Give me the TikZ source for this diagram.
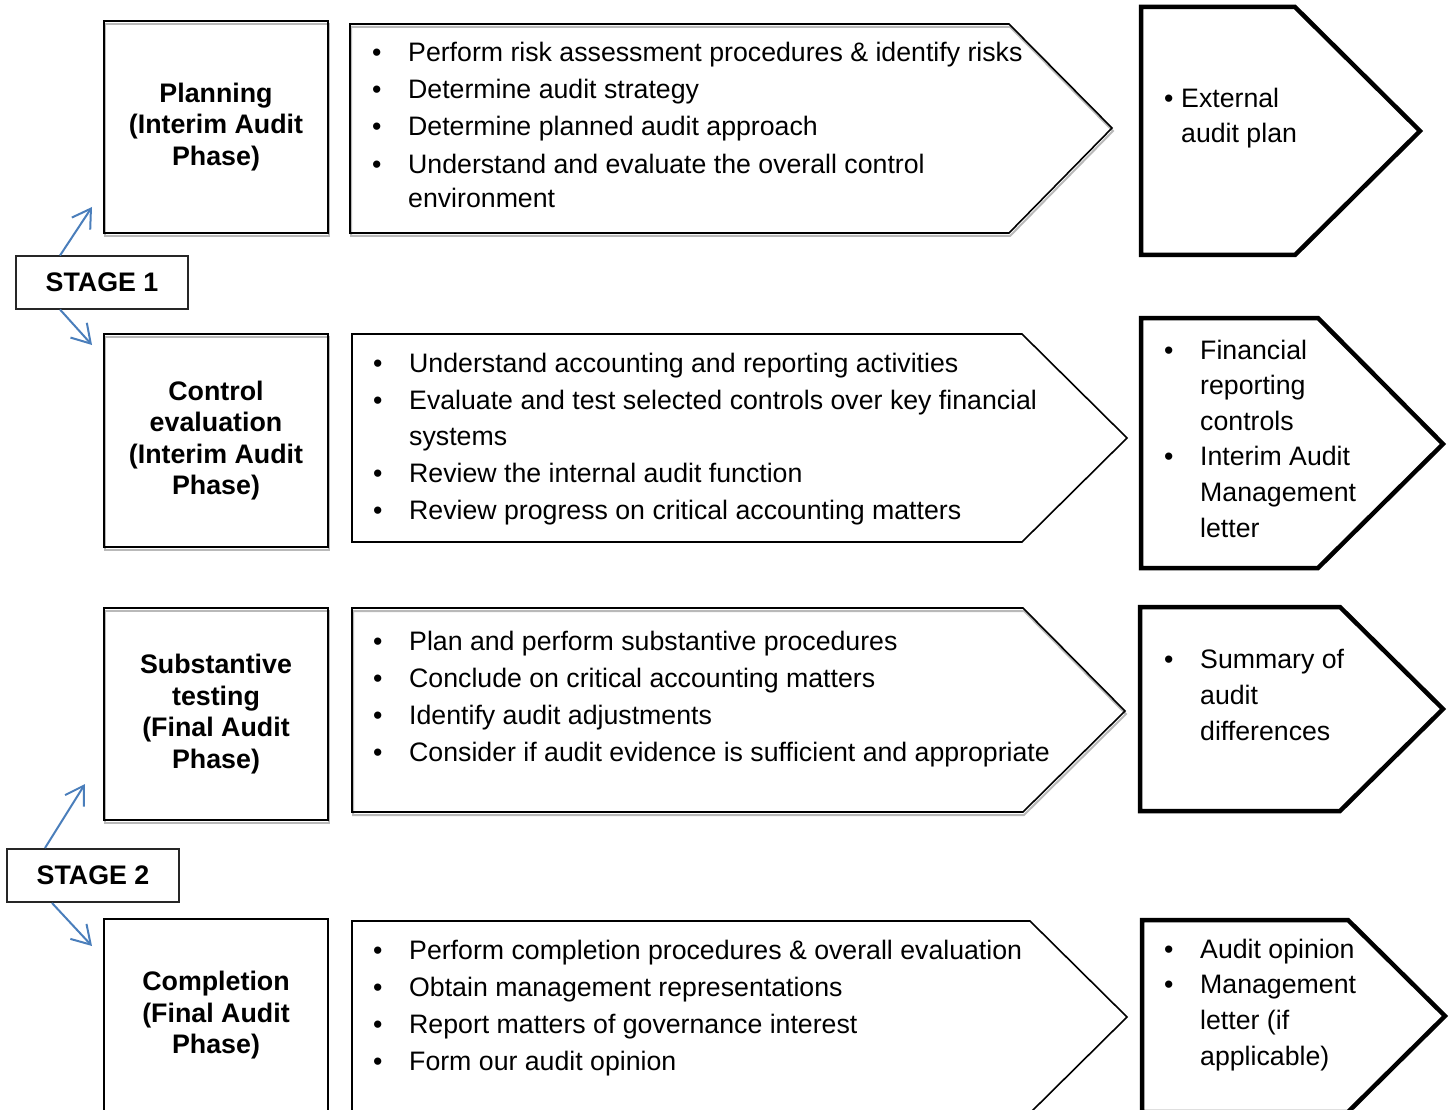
\documentclass[tikz,border=0pt]{standalone}
\usepackage{fontspec}
\setmainfont{Liberation Sans}
\usetikzlibrary{arrows.meta}
\definecolor{stageBlue}{HTML}{4A7EBB}
\newcommand{\bul}[1][36pt]{\makebox[#1][l]{\textbullet}}

\begin{document}
\begin{tikzpicture}[x=1pt, y=-1pt,
    phaseBox/.style={draw, line width=2pt, minimum width=224pt, minimum height=212pt, inner sep=0pt, align=center, font=\bfseries\fontsize{26.8}{31.5}\selectfont},
    stageBox/.style={draw=black!85, line width=2pt, minimum width=172pt, minimum height=52pt, font=\bfseries\fontsize{26.8}{32}\selectfont},
    shadowed/.style={preaction={draw=gray!55, line width=2pt, transform canvas={xshift=1pt, yshift=-3pt}}},
    taskArrow/.style={draw, line width=1.6pt},
    resultArrow/.style={draw, line width=4.5pt},
    taskList/.style={anchor=base west, inner sep=0pt, align=left, font=\fontsize{26.7}{37}\selectfont},
    outList/.style={anchor=base west, inner sep=0pt, align=left, font=\fontsize{26.7}{35.6}\selectfont},
    flow/.style={stageBlue, line width=2pt, -{Straight Barb[length=18pt, width=22pt]}}]
    \useasboundingbox (0,0) rectangle (1454,1110);
    \clip (0,0) rectangle (1454,1110);

    \node[phaseBox, shadowed] (planning) at (216,127) {Planning\\(Interim Audit\\Phase)};
    \node[phaseBox, shadowed, minimum height=213pt] (control) at (216,440.5) {Control\\evaluation\\(Interim Audit\\Phase)};
    \node[phaseBox, shadowed] (substantive) at (216,714) {Substantive\\testing\\(Final Audit\\Phase)};
    \node[phaseBox, minimum height=193pt] (completion) at (216,1015.5) {Completion\\(Final Audit\\Phase)};

    \node[stageBox] (stage1) at (102,282.5) {STAGE 1};
    \node[stageBox, minimum height=53pt] (stage2) at (93,875.5) {STAGE 2};

    \draw[flow] ([xshift=-42pt]stage1.north) -- ([xshift=-11pt, yshift=27pt]planning.south west);
    \draw[flow] ([xshift=-42pt]stage1.south) -- ([xshift=-11pt, yshift=-12pt]control.north west);
    \draw[flow] ([xshift=-48pt]stage2.north) -- ([xshift=-18pt, yshift=37pt]substantive.south west);
    \draw[flow] ([xshift=-41pt]stage2.south) -- ([xshift=-11pt, yshift=-28pt]completion.north west);

    \draw[taskArrow, shadowed] (350,24) -- (1009,24) -- (1112,128) -- (1009,233) -- (350,233) -- cycle;
    \draw[taskArrow] (352,334) -- (1022,334) -- (1127,438) -- (1022,542) -- (352,542) -- cycle;
    \draw[taskArrow, shadowed] (352,608) -- (1023,608) -- (1125,711) -- (1023,812) -- (352,812) -- cycle;
    \draw[taskArrow] (352,921) -- (1030,921) -- (1127,1017) -- (1030,1113) -- (352,1113) -- cycle;

    \draw[resultArrow] (1141,7) -- (1295,7) -- (1420,131) -- (1295,255) -- (1141,255) -- cycle;
    \draw[resultArrow] (1141,318) -- (1318,318) -- (1443,444) -- (1318,568) -- (1141,568) -- cycle;
    \draw[resultArrow] (1140,607) -- (1340,607) -- (1443,709) -- (1340,811) -- (1140,811) -- cycle;
    \draw[resultArrow] (1142,920) -- (1348,920) -- (1445,1016) -- (1348,1112) -- (1142,1112) -- cycle;

    \node[taskList] (planTasks) at (372,208) {\bul Perform risk assessment procedures \& identify risks\\
        \bul Determine audit strategy\\
        \bul Determine planned audit approach\\
        \bul Understand and evaluate the overall control\\[-2pt]
        \hspace*{36pt}environment};
    \node[taskList] (controlTasks) at (373,519) {\bul Understand accounting and reporting activities\\
        \bul Evaluate and test selected controls over key financial\\[-1pt]
        \hspace*{36pt}systems\\
        \bul Review the internal audit function\\
        \bul Review progress on critical accounting matters};
    \node[taskList] (substantiveTasks) at (373,761) {\bul Plan and perform substantive procedures\\
        \bul Conclude on critical accounting matters\\
        \bul Identify audit adjustments\\
        \bul Consider if audit evidence is sufficient and appropriate};
    \node[taskList] (completionTasks) at (373,1070) {\bul Perform completion procedures \& overall evaluation\\
        \bul Obtain management representations\\
        \bul Report matters of governance interest\\
        \bul Form our audit opinion};

    \node[outList] (planOut) at (1164,143) {\bul[17pt]External\\\hspace*{17pt}audit plan};
    \node[outList] (controlOut) at (1164,537) {\bul Financial\\\hspace*{36pt}reporting\\\hspace*{36pt}controls\\
        \bul Interim Audit\\\hspace*{36pt}Management\\\hspace*{36pt}letter};
    \node[outList] (substantiveOut) at (1164,740) {\bul Summary of\\\hspace*{36pt}audit\\\hspace*{36pt}differences};
    \node[outList] (completionOut) at (1164,1065) {\bul Audit opinion\\\bul Management\\\hspace*{36pt}letter (if\\\hspace*{36pt}applicable)};
\end{tikzpicture}
\end{document}
